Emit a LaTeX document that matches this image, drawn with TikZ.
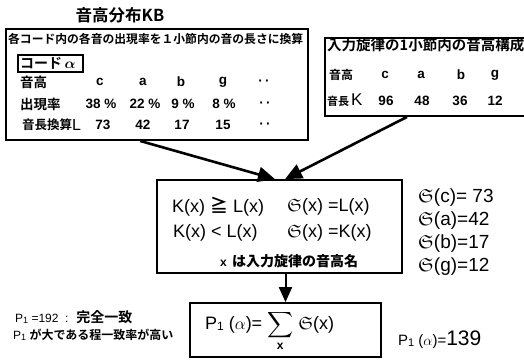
\documentclass[tikz,border=0pt]{standalone}
\usepackage{amsmath,amssymb}
\usepackage{fontspec}
\setmainfont{Liberation Sans}
\newfontfamily\jp{Noto Sans CJK JP Bold}
\usetikzlibrary{arrows.meta}
\newcommand\Sfr{\ensuremath{\mathfrak{S}}}
\newcommand\fs[1]{\fontsize{#1}{#1}\selectfont}
\begin{document}
\begin{tikzpicture}[x=1pt,y=-1pt,
  box/.style={draw,line width=1.8pt,inner sep=0pt},
  t/.style={inner sep=0pt,anchor=west},
  tc/.style={inner sep=0pt},
  arr/.style={line width=2.6pt,-{Triangle[length=17pt,width=15pt]}},
  darr/.style={line width=2pt,-{Triangle[length=15pt,width=13pt]}},
  val/.style={inner sep=0pt,font=\bfseries\fs{13.5}},
  jpl/.style={inner sep=0pt,anchor=west,font=\jp\fs{#1}}]
\useasboundingbox (0,0) rectangle (524,360);
% boxes
\node[box,minimum width=302pt,minimum height=111pt] (kb) at (157,84.5) {};
\node[box,minimum width=215pt,minimum height=78pt] (inp) at (432.5,77) {};
\node[box,minimum width=245pt,minimum height=93pt] (cond) at (279.5,226.5) {};
\node[box,minimum width=191pt,minimum height=54pt] (sum) at (285.5,330) {};
% title
\node[tc,font=\jp\fs{16.5}] (title) at (120,15) {音高分布KB};
% left box content
\node[jpl=11.8] (h1) at (8,39) {各コード内の各音の出現率を１小節内の音の長さに換算};
\node[draw,line width=1.1pt,inner sep=0pt,minimum width=65pt,minimum height=17pt] (ca) at (50.5,63.5) {};
\node[jpl=14] (cat) at (20,63.5) {コード\,$\boldsymbol{\alpha}$};
\node[jpl=13.5] (r1) at (20,82) {音高};
\node[jpl=13.5] (r2) at (20,104) {出現率};
\node[jpl=12.5] (r3) at (22,125) {音長換算\rlap{\rmfamily\mdseries\fs{16}\raisebox{-0.5pt}{L}}};
\node[val] (c1) at (100,82) {c};
\node[val] (a1) at (143,82) {a};
\node[val] (b1) at (181,82) {b};
\node[val] (g1) at (223,82) {g};
\node[val] (d1) at (264,83) {·\,·};
\node[val] (c2) at (101,104) {38 \%};
\node[val] (a2) at (145,104) {22 \%};
\node[val] (b2) at (183,104) {9 \%};
\node[val] (g2) at (224,104) {8 \%};
\node[val] (d2) at (265,105) {·\,·};
\node[val] (c3) at (103,125) {73};
\node[val] (a3) at (143,125) {42};
\node[val] (b3) at (182,125) {17};
\node[val] (g3) at (223,125) {15};
\node[val] (d3) at (265,126) {·\,·};
% right box content
\node[jpl=14.5] (h2) at (327,45) {入力旋律の1小節内の音高構成};
\node[jpl=12] (s1) at (329,75) {音高};
\node[jpl=11] (s2) at (327,101) {音長};
\node[t,font=\fs{17}] (kk) at (351,100) {K};
\node[val] (c4) at (385,75) {c};
\node[val] (a4) at (421,75) {a};
\node[val] (b4) at (461,75) {b};
\node[val] (g4) at (495,75) {g};
\node[val] (c5) at (386,101) {96};
\node[val] (a5) at (422,101) {48};
\node[val] (b5) at (460,101) {36};
\node[val] (g5) at (495,101) {12};
% middle box content
\node[t,font=\fs{18}] (m1) at (172,207) {K(x) {\jp ≧} L(x)};
\node[t,font=\fs{18}] (m2) at (287,207) {\Sfr(x) =L(x)};
\node[t,font=\fs{18}] (m3) at (173,233) {K(x) < L(x)};
\node[t,font=\fs{18}] (m4) at (287,233) {\Sfr(x) =K(x)};
\node[t,font=\bfseries\fs{12}] (m5) at (220,261) {x\, {\jp\fs{14}は入力旋律の音高名}};
% right values
\node[t,font=\fs{19}] (v1) at (418,198) {\Sfr(c)= 73};
\node[t,font=\fs{19}] (v2) at (418,221) {\Sfr(a)=42};
\node[t,font=\fs{19}] (v3) at (418,244) {\Sfr(b)=17};
\node[t,font=\fs{19}] (v4) at (418,267) {\Sfr(g)=12};
% bottom formula
\node[t,font=\fs{18}] (f1) at (205,331) {P{\fs{12}\raisebox{-1pt}{1}} ($\alpha$)= $\displaystyle\sum_{\text{\bfseries\fs{12}x}}$ \Sfr(x)};
\node[t,font=\fs{15}] (f2) at (398,340) {P{\fs{11}\raisebox{-1pt}{1}} ($\alpha$)={\fs{21}139}};
% left notes
\node[t,font=\fs{12}] (n1) at (15,317) {P{\fs{9}\raisebox{-1pt}{1}} =192 \ : \ {\jp\fs{14}完全一致}};
\node[t,font=\fs{12}] (n2) at (13,335) {P{\fs{9}\raisebox{-1pt}{1}} {\jp\fs{12}が大である程一致率が高い}};
% arrows
\draw[arr] ([xshift=-17pt]kb.south) -- ([xshift=-4.5pt]cond.north);
\draw[arr] ([xshift=-25.5pt]inp.south) -- ([xshift=5.5pt]cond.north);
\draw[darr] (cond.south -| sum.north) -- (sum.north);
\end{tikzpicture}
\end{document}
